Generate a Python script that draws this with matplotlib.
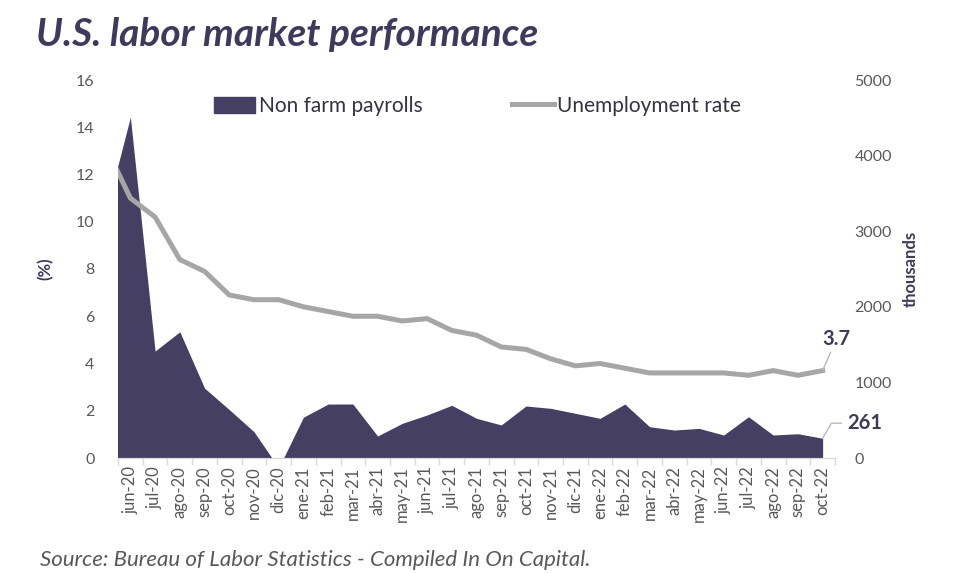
import matplotlib
matplotlib.use("Agg")
import matplotlib.pyplot as plt
from matplotlib.lines import Line2D
from matplotlib.patches import Patch
import numpy as np

plt.rcParams["font.family"] = ["Lato", "DejaVu Sans"]

# monthly data, may-20 .. oct-22 (may-20 sits just outside the left edge)
months = ["may-20", "jun-20", "jul-20", "ago-20", "sep-20", "oct-20", "nov-20", "dic-20",
          "ene-21", "feb-21", "mar-21", "abr-21", "may-21", "jun-21", "jul-21", "ago-21",
          "sep-21", "oct-21", "nov-21", "dic-21", "ene-22", "feb-22", "mar-22", "abr-22",
          "may-22", "jun-22", "jul-22", "ago-22", "sep-22", "oct-22"]
payrolls = [3240, 4510, 1415, 1670, 925, 640, 348, -130,
            540, 714, 714, 291, 459, 569, 697, 525,
            437, 688, 657, 591, 525, 714, 414, 370,
            392, 304, 546, 304, 321, 261]
unemployment = [13.2, 11.0, 10.2, 8.4, 7.9, 6.9, 6.7, 6.7,
                6.4, 6.2, 6.0, 6.0, 5.8, 5.9, 5.4, 5.2,
                4.7, 4.6, 4.2, 3.9, 4.0, 3.8, 3.6, 3.6,
                3.6, 3.6, 3.5, 3.7, 3.5, 3.7]

AREA = "#463f64"
LINE = "#a6a6a6"
TXT = "#595959"
DARK = "#3d3a5c"

W, H = 967, 573
fig = plt.figure(figsize=(W / 100, H / 100), dpi=100)
ax = fig.add_axes([118 / W, 1 - 458 / H, (835 - 118) / W, (458 - 80) / H])
ax2 = ax.twinx()

x = np.arange(len(months))
ax2.fill_between(x, 0, payrolls, color=AREA, linewidth=0)
ax.plot(x, unemployment, color=LINE, lw=3.6, solid_joinstyle="miter")

ax.set_zorder(ax2.get_zorder() + 1)
ax.patch.set_visible(False)

ax.set_xlim(0.5, len(months) - 0.5)
ax.set_ylim(0, 16)
ax2.set_ylim(0, 5000)
ax.set_yticks(range(0, 17, 2))
ax2.set_yticks(range(0, 5001, 1000))

ax.set_xticks(x[1:])
ax.set_xticklabels(months[1:], rotation=90, fontsize=12, color=TXT)
ax.set_xticks(np.arange(0.5, len(months), 1.0), minor=True)
ax.tick_params(axis="x", which="major", length=0, pad=6)
ax.tick_params(axis="x", which="minor", length=5, color="#d9d9d9", width=1)
ax.tick_params(axis="y", length=0, labelsize=11.5, labelcolor=TXT, pad=17)
ax2.tick_params(axis="y", length=0, labelsize=11.5, labelcolor=TXT, pad=14)

for a in (ax, ax2):
    for s in ("top", "left", "right"):
        a.spines[s].set_visible(False)
    a.spines["bottom"].set_color("#d9d9d9")

ax.set_ylabel("(%)", fontsize=12, fontweight="bold", color=DARK, labelpad=16)
ax2.set_ylabel("thousands", fontsize=12, fontweight="bold", color=DARK, labelpad=8)

# end-point labels with leader lines
xe = x[-1]
ax.annotate("3.7", xy=(xe, unemployment[-1]), xytext=(xe + 0.55, unemployment[-1] + 0.9),
            fontsize=14.5, fontweight="bold", color=DARK, ha="center", va="bottom",
            arrowprops=dict(arrowstyle="-", color="#b4bac8", lw=1, shrinkA=0, shrinkB=0))
ax2.plot([xe, xe + 0.35, xe + 0.75], [payrolls[-1], 460, 460], color="#b4bac8", lw=1,
         clip_on=False)
ax2.text(xe + 1.0, 460, "261", fontsize=14.5, fontweight="bold", color=DARK,
         ha="left", va="center")

handles = [Patch(color=AREA), Line2D([], [], color=LINE, lw=3.6)]
fig.legend(handles, ["Non farm payrolls", "Unemployment rate"], loc="center left",
           bbox_to_anchor=(195 / W, 1 - 106 / H), ncol=2, frameon=False, fontsize=15,
           handlelength=2.0, handleheight=0.8, handletextpad=0.15, columnspacing=4.3,
           labelcolor="#333344")

fig.text(36 / W, 1 - 35 / H, "U.S. labor market performance", fontsize=28,
         fontweight="bold", fontstyle="italic", color=DARK, va="center", ha="left")
fig.text(40 / W, 1 - 560 / H, "Source: Bureau of Labor Statistics - Compiled In On Capital.",
         fontsize=16, fontstyle="italic", color=TXT, va="center", ha="left")

fig.savefig("out.png", dpi=100)
